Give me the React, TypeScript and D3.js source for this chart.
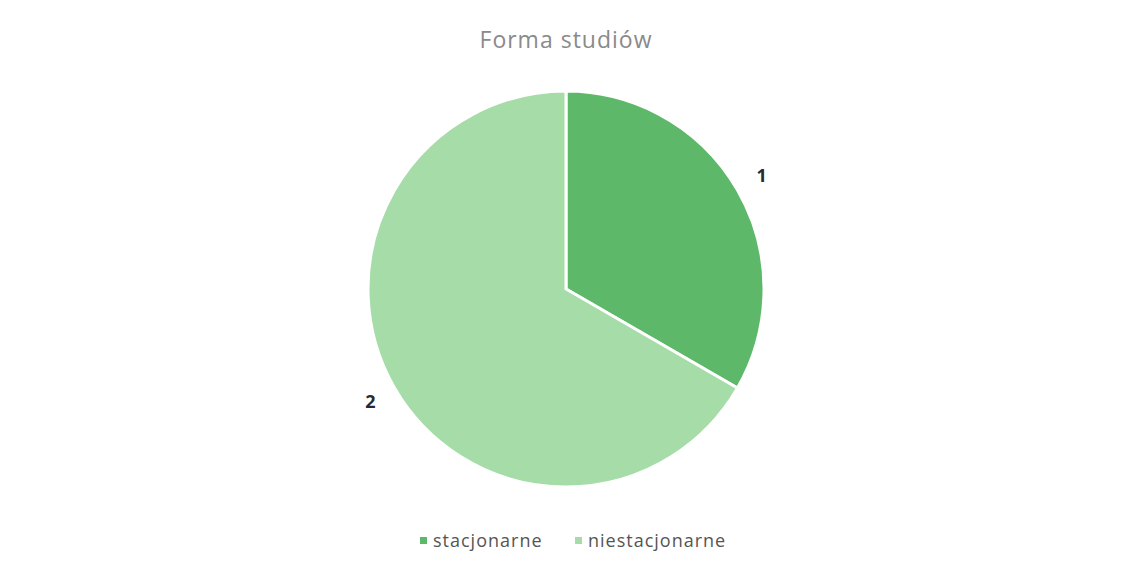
import React from 'react';
import * as d3 from 'd3';

const categories = ['stacjonarne', 'niestacjonarne'];
const values = [1, 2];
const colors = ['#5db86a', '#a6dca8'];
const title = 'Forma studiów';

const W = 1123;
const H = 573;
const cx = 566;
const cy = 289;
const radius = 198;
const font = '"Open Sans", Lato, "DejaVu Sans", sans-serif';

const App = (): React.ReactElement => {
  const pie = d3.pie<number>().sort(null).value((d) => d);
  const arcs = pie(values);
  const arc = d3.arc<d3.PieArcDatum<number>>().innerRadius(0).outerRadius(radius);
  const labelArc = d3.arc<d3.PieArcDatum<number>>().innerRadius(226).outerRadius(226);

  // legend layout
  const legendX = [420, 575];

  return (
    <svg width={W} height={H} style={{ position: 'fixed', left: 0, top: 0, background: '#fff' }}>
      <text x={cx} y={48} textAnchor="middle" fontFamily={font} fontSize={23} letterSpacing={1} fill="#8a8a8a">
        {title}
      </text>
      <g transform={`translate(${cx},${cy})`}>
        {arcs.map((a, i) => (
          <path key={i} d={arc(a) as string} fill={colors[i]} stroke="#fff" strokeWidth={3} />
        ))}
        {arcs.map((a, i) => {
          const [x, y] = labelArc.centroid(a);
          return (
            <text
              key={'l' + i}
              x={x}
              y={y}
              dy="0.35em"
              textAnchor="middle"
              fontFamily={font}
              fontWeight="bold"
              fontSize={18}
              fill="#2a2a2a"
            >
              {a.data}
            </text>
          );
        })}
      </g>
      {categories.map((c, i) => (
        <g key={c} transform={`translate(${legendX[i]},541)`}>
          <rect x={0} y={-4} width={7} height={7} fill={colors[i]} />
          <text x={13} y={0} dy="0.35em" fontFamily={font} fontSize={18} letterSpacing={1} fill="#555">
            {c}
          </text>
        </g>
      ))}
    </svg>
  );
};

export default App;
